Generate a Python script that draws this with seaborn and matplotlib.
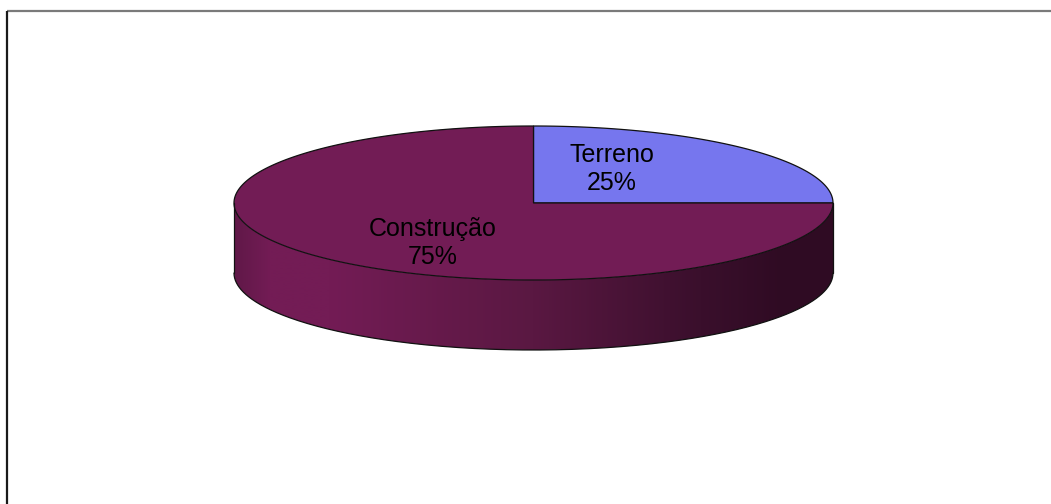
import numpy as np
import matplotlib
matplotlib.use("Agg")
import matplotlib.pyplot as plt
from matplotlib.patches import Polygon
import seaborn as sns

# Slice data (drawn clockwise from 12 o'clock)
categories = ["Terreno", "Construção"]
values = [25, 75]
slice_colors = ["#7676EE", "#721C55"]

# Shading of the pie's outer wall, left to right
wall_stops = [0.00, 0.06, 0.16, 0.50, 0.78, 0.92, 1.00]
wall_colors = ["#601848", "#731C55", "#731C55", "#5A1842", "#3A0F2C", "#2F0B23", "#300C24"]

sns.set_theme(style="white")
plt.rcParams["font.family"] = ["Liberation Sans", "DejaVu Sans"]

W, H = 1051, 504
fig = plt.figure(figsize=(W / 100, H / 100), dpi=100)
ax = fig.add_axes([0, 0, 1, 1])
ax.set_xlim(0, W)
ax.set_ylim(H, 0)
ax.axis("off")

# Pie geometry in pixel space (ellipse centre, semi-axes, wall depth)
cx, cy, a, b, depth = 533.5, 203.0, 299.5, 77.0, 70.0


def rim(t, dy=0.0):
    return cx + a * np.cos(t), cy - b * np.sin(t) + dy


total = float(sum(values))
fracs = [v / total for v in values]
start = np.pi / 2
spans = []
for f in fracs:
    end = start - 2 * np.pi * f
    spans.append((start, end))
    start = end

# Outer wall: front half of the ellipse (angles pi..2pi), shaded horizontally
t_front = np.linspace(np.pi, 2 * np.pi, 400)
xs_top, ys_top = rim(t_front)
xs_bot, ys_bot = rim(t_front[::-1], depth)
wall_poly = Polygon(np.column_stack([np.r_[xs_top, xs_bot], np.r_[ys_top, ys_bot]]),
                    closed=True, facecolor="none", edgecolor="none")
ax.add_patch(wall_poly)

rgb = np.array([matplotlib.colors.to_rgb(c) for c in wall_colors])
gx = np.linspace(0, 1, 600)
grad = np.stack([np.interp(gx, wall_stops, rgb[:, k]) for k in range(3)], axis=-1)[None, :, :]
im = ax.imshow(grad, extent=(cx - a, cx + a, cy + depth + b + 2, cy - 2),
               aspect="auto", interpolation="bilinear", zorder=1)
im.set_clip_path(wall_poly)

# Wall outline
ax.plot(xs_bot, ys_bot, color="#111111", lw=0.9, zorder=3)
ax.plot([cx - a, cx - a], [cy, cy + depth], color="#111111", lw=0.9, zorder=3)
ax.plot([cx + a, cx + a], [cy, cy + depth], color="#111111", lw=0.9, zorder=3)

# Top face wedges
for (t0, t1), col in zip(spans, slice_colors):
    t = np.linspace(t0, t1, 400)
    x, y = rim(t)
    pts = np.column_stack([np.r_[cx, x], np.r_[cy, y]])
    ax.add_patch(Polygon(pts, closed=True, facecolor=col, edgecolor="#111111",
                         lw=0.9, zorder=2))

# Data labels
label_anchor = {"Terreno": (612, 169), "Construção": (433, 243)}
for cat, v in zip(categories, values):
    lx, ly = label_anchor[cat]
    ax.text(lx, ly, f"{cat}\n{v / total * 100:.0f}%", ha="center", va="center",
            fontsize=18, color="black", linespacing=1.25, zorder=4)

# Chart frame (top and left edges)
ax.plot([6.5, W], [10.5, 10.5], color="#7a7a7a", lw=1.6, zorder=5, solid_capstyle="butt")
ax.plot([6.5, 6.5], [10.5, H], color="#1a1a1a", lw=1.6, zorder=5, solid_capstyle="butt")

fig.savefig("out.png", dpi=100, facecolor="white")
